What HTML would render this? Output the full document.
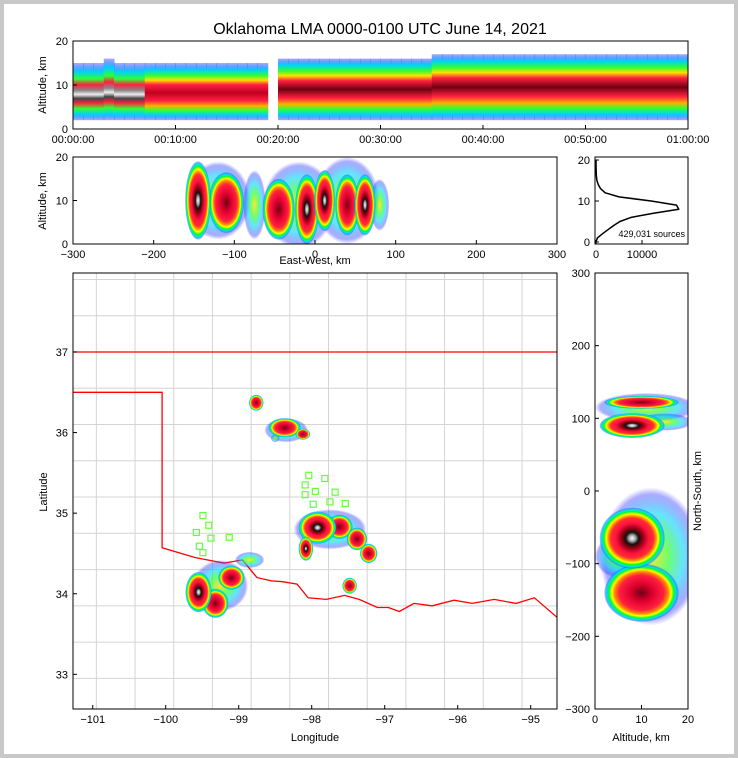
<!DOCTYPE html>
<html><head><meta charset="utf-8"><style>
html,body{margin:0;padding:0;background:#fff}
svg{display:block;font-family:"Liberation Sans",sans-serif}
</style></head><body>
<svg id="c" width="738" height="758" viewBox="0 0 738 758" xmlns="http://www.w3.org/2000/svg">
<defs>
<radialGradient id="gHot"><stop offset="0" stop-color="#fff"/><stop offset="0.1" stop-color="#aaa"/><stop offset="0.2" stop-color="#111"/><stop offset="0.32" stop-color="#900010"/><stop offset="0.5" stop-color="#ff1040"/><stop offset="0.66" stop-color="#ff3030"/><stop offset="0.74" stop-color="#ffa000"/><stop offset="0.8" stop-color="#ffff00"/><stop offset="0.87" stop-color="#00ff20"/><stop offset="0.94" stop-color="#00e0ff"/><stop offset="1" stop-color="#2020ff" stop-opacity="0.2"/></radialGradient>
<radialGradient id="gWarm"><stop offset="0" stop-color="#700010"/><stop offset="0.3" stop-color="#e00030"/><stop offset="0.6" stop-color="#ff2040"/><stop offset="0.72" stop-color="#ff8800"/><stop offset="0.8" stop-color="#ffff00"/><stop offset="0.87" stop-color="#00ff30"/><stop offset="0.94" stop-color="#00d8ff"/><stop offset="1" stop-color="#2020ff" stop-opacity="0.2"/></radialGradient>
<radialGradient id="gCool"><stop offset="0" stop-color="#ffe000" stop-opacity="0.8"/><stop offset="0.35" stop-color="#30ff30" stop-opacity="0.7"/><stop offset="0.65" stop-color="#00d0ff" stop-opacity="0.6"/><stop offset="0.9" stop-color="#3030ff" stop-opacity="0.4"/><stop offset="1" stop-color="#3030ff" stop-opacity="0"/></radialGradient>
<linearGradient id="vHot" x1="0" y1="0" x2="0" y2="1"><stop offset="0" stop-color="#3030ff" stop-opacity="0.4"/><stop offset="0.1" stop-color="#00d0ff"/><stop offset="0.2" stop-color="#30ff30"/><stop offset="0.28" stop-color="#ffe000"/><stop offset="0.36" stop-color="#ff2040"/><stop offset="0.5" stop-color="#700010"/><stop offset="0.64" stop-color="#ff2040"/><stop offset="0.74" stop-color="#ffb000"/><stop offset="0.82" stop-color="#30ff30"/><stop offset="0.91" stop-color="#00d0ff"/><stop offset="1" stop-color="#3030ff" stop-opacity="0.4"/></linearGradient>
<linearGradient id="vWarm" x1="0" y1="0" x2="0" y2="1"><stop offset="0" stop-color="#3030ff" stop-opacity="0.4"/><stop offset="0.12" stop-color="#00d0ff"/><stop offset="0.22" stop-color="#30ff30"/><stop offset="0.3" stop-color="#ffe000"/><stop offset="0.38" stop-color="#ff2040"/><stop offset="0.52" stop-color="#c00020"/><stop offset="0.66" stop-color="#ff2040"/><stop offset="0.75" stop-color="#ffb000"/><stop offset="0.83" stop-color="#30ff30"/><stop offset="0.91" stop-color="#00d0ff"/><stop offset="1" stop-color="#3030ff" stop-opacity="0.4"/></linearGradient>
<linearGradient id="vGrey" x1="0" y1="0" x2="0" y2="1"><stop offset="0" stop-color="#3030ff" stop-opacity="0.4"/><stop offset="0.15" stop-color="#00d0ff"/><stop offset="0.28" stop-color="#30ff30"/><stop offset="0.38" stop-color="#ff2040"/><stop offset="0.48" stop-color="#888"/><stop offset="0.55" stop-color="#eee"/><stop offset="0.62" stop-color="#444"/><stop offset="0.7" stop-color="#ff2040"/><stop offset="0.8" stop-color="#30ff30"/><stop offset="0.9" stop-color="#00d0ff"/><stop offset="1" stop-color="#3030ff" stop-opacity="0.4"/></linearGradient>
<clipPath id="cTop"><rect x="73" y="41" width="615" height="88"/></clipPath>
<clipPath id="cMid"><rect x="73" y="157" width="484" height="87"/></clipPath>
<clipPath id="cMap"><rect x="73" y="273" width="484" height="436"/></clipPath>
<clipPath id="cRt"><rect x="595" y="273" width="93" height="436"/></clipPath>
</defs>
<rect x="2" y="2" width="734" height="754" fill="#fff" stroke="#c8c8c8" stroke-width="4"/>
<text x="380" y="34" font-size="16" text-anchor="middle">Oklahoma LMA 0000-0100 UTC June 14, 2021</text>
<g id="layers"></g>
</svg>
<script>
// ---- data ----
const timeMin = [0,1,2,3,4,5,6,7,8,9,10,11,12,13,14,15,16,17,18,19,20,21,22,23,24,25,26,27,28,29,30,31,32,33,34,35,36,37,38,39,40,41,42,43,44,45,46,47,48,49,50,51,52,53,54,55,56,57,58,59];
const timeLo  = [2,2,2,2,2,2,2,2,2,2,2,2,2,2,2,2,2,2,2,2,2,2,2,2,2,2,2,2,2,2,2,2,2,2,2,2,2,2,2,2,2,2,2,2,2,2,2,2,2,2,2,2,2,2,2,2,2,2,2,2];
const timeHi  = [15,15,15,16,15,15,15,15,15,15,15,15,15,15,15,15,15,15,15,15,16,16,16,16,16,16,16,16,16,16,16,16,16,16,16,17,17,17,17,17,17,17,17,17,17,17,17,17,17,17,17,17,17,17,17,17,17,17,17,17];
const timeLvl = [0,0,0,0,0,0,0,1,1,1,1,1,1,1,1,1,1,1,1,1,2,2,2,2,2,2,2,2,2,2,2,2,2,2,2,2,2,2,2,2,2,2,2,2,2,2,2,2,2,2,2,2,2,2,2,2,2,2,2,2];
// east-west vs altitude blobs: x km, alt km, rx km, ry km, level(0 cool,1 warm,2 hot)
const ewX   = [-120,-20,40,-145,-110,-75,-45,-10,12,40,62,80];
const ewAlt = [10,9,10,10,9.5,9,8,8,10,9,9,9];
const ewRx  = [40,45,40,16,22,14,20,15,13,15,13,12];
const ewRy  = [9,10,10,9,7,8,7,8,7,7,7,6];
const ewLvl = [0,0,0,2,1,0,1,2,2,1,2,0];
// altitude histogram (counts per km, 0..20)
const histAlt = [0,1,2,3,4,5,6,7,8,9,10,11,12,13,14,15,16,17,18,19,20];
const histCnt = [0,300,1400,2600,3800,5200,7600,12500,18000,17500,12000,5000,2000,1000,500,200,80,40,20,10,0];
const totalSources = "429,031 sources";
// map storm blobs: lon, lat, rx deg, ry deg, level
const blobLon = [-97.75,-99.25,-98.35,-98.76,-98.37,-98.12,-98.5,-97.92,-97.62,-97.38,-97.22,-98.08,-97.48,-99.55,-99.32,-99.1,-98.85];
const blobLat = [34.8,34.1,36.03,36.37,36.06,35.98,35.93,34.82,34.83,34.68,34.5,34.56,34.1,34.02,33.88,34.2,34.42];
const blobRx  = [0.5,0.38,0.3,0.1,0.22,0.1,0.06,0.26,0.18,0.14,0.12,0.1,0.1,0.18,0.18,0.18,0.2];
const blobRy  = [0.25,0.32,0.15,0.1,0.12,0.07,0.05,0.2,0.15,0.14,0.12,0.15,0.1,0.25,0.18,0.15,0.1];
const blobLvl = [0,0,0,1,1,1,0,2,1,1,1,2,1,2,1,1,0];
// stations
const staLon = [-98.04,-97.82,-98.09,-97.95,-98.09,-97.75,-97.98,-97.68,-97.54,-99.49,-99.41,-99.58,-99.38,-99.13,-99.54,-99.49];
const staLat = [35.47,35.43,35.35,35.27,35.23,35.14,35.11,35.26,35.12,34.97,34.85,34.76,34.69,34.70,34.59,34.51];
// altitude vs north-south blobs: alt km, ns km, rx km, ry km, level
const nsAlt = [11,12,10,8,15,8,10,5];
const nsNS  = [115,-90,122,90,95,-65,-140,-90];
const nsRx  = [11,11,8,7,6,7,8,5];
const nsRy  = [20,95,9,17,12,42,40,30];
const nsLvl = [0,0,1,2,0,2,1,0];
// Oklahoma border (lon, lat)
const okLon = [-101.3,-100.05,-100.05,-99.6,-99.2,-98.95,-98.75,-98.55,-98.4,-98.2,-98.05,-97.8,-97.55,-97.35,-97.1,-96.95,-96.8,-96.6,-96.35,-96.05,-95.8,-95.5,-95.2,-94.95,-94.63,-94.63,-101.3];
const okLat = [36.5,36.5,34.57,34.45,34.38,34.42,34.2,34.16,34.15,34.12,33.95,33.93,33.98,33.93,33.83,33.83,33.78,33.88,33.85,33.92,33.88,33.93,33.88,33.95,33.7,37.0,37.0];
const lonTicks=[-101,-100,-99,-98,-97,-96,-95];
const latTicks=[33,34,35,36,37];
const timeTicks=["00:00:00","00:10:00","00:20:00","00:30:00","00:40:00","00:50:00","01:00:00"];

// ---- helpers ----
const NS="http://www.w3.org/2000/svg";
const root=document.getElementById('layers');
function mk(tag,attrs,parent){const e=document.createElementNS(NS,tag);for(const k in attrs)e.setAttribute(k,attrs[k]);(parent||root).appendChild(e);return e;}
function lin(d0,d1,r0,r1){return v=>r0+(v-d0)*(r1-r0)/(d1-d0);}
const grad=["url(#gCool)","url(#gWarm)","url(#gHot)"];
const vgrad=["url(#vGrey)","url(#vWarm)","url(#vHot)"];
function txt(x,y,s,size,anchor,rot){const t=mk('text',{x:x,y:y,'font-size':size||11,'text-anchor':anchor||'middle'});if(rot)t.setAttribute('transform',`rotate(${rot} ${x} ${y})`);t.textContent=s;return t;}
function frame(x,y,w,h,name){const r=mk('rect',{x:x,y:y,width:w,height:h,fill:'none',stroke:'#000','stroke-width':1});}
function xtick(x,y0,y1){mk('line',{x1:x,x2:x,y1:y0,y2:y1,stroke:'#000'});}
function ytick(y,x0,x1){mk('line',{x1:x0,x2:x1,y1:y,y2:y,stroke:'#000'});}

// ---- top panel: time vs altitude ----
const tX=lin(0,60,73,688), tY=lin(0,20,129,41);
const gTop=mk('g',{'clip-path':'url(#cTop)'});


timeMin.forEach((m,i)=>{
  if(m===19){return;}
  const r=mk('rect',{x:tX(m),y:tY(timeHi[i]),width:tX(m+1)-tX(m)+0.5,height:tY(timeLo[i])-tY(timeHi[i]),fill:vgrad[timeLvl[i]]},gTop);
  
  
});
frame(73,41,615,88,'time-panel-frame');
[0,10,20].forEach(v=>{ytick(tY(v),73,77);txt(68,tY(v)+4,String(v),11,'end');});
timeTicks.forEach((s,i)=>{const x=tX(i*10);xtick(x,129,125);txt(x,143,s);});
txt(46,85,'Altitude, km',11,'middle',-90);

// ---- middle: east-west vs altitude ----
const eX=lin(-300,300,73,557), eY=lin(0,20,244,157);
const gMid=mk('g',{'clip-path':'url(#cMid)'});


ewX.map((v,i)=>i).sort((a,b)=>ewLvl[a]-ewLvl[b]).forEach(i=>{
  const e=mk('ellipse',{cx:eX(ewX[i]),cy:eY(ewAlt[i]),rx:eX(ewRx[i])-eX(0),ry:eY(0)-eY(ewRy[i]),fill:grad[ewLvl[i]]},gMid);
  
  
});
frame(73,157,484,87,'ew-panel-frame');
[0,10,20].forEach(v=>{ytick(eY(v),73,77);txt(68,eY(v)+4,String(v),11,'end');});
[-300,-200,-100,0,100,200,300].forEach(v=>{xtick(eX(v),244,240);txt(eX(v),258,String(v).replace('-','−'));});
txt(315,264,'East-West, km');
txt(46,201,'Altitude, km',11,'middle',-90);

// ---- histogram ----
const hX=lin(0,20000,596,688), hY=lin(0,20,242,160);
let d='';histAlt.forEach((a,i)=>{d+=(i?'L':'M')+hX(histCnt[i]).toFixed(1)+','+hY(a).toFixed(1);});
const hp=mk('path',{d:d,fill:'none',stroke:'#000','stroke-width':1.5,'stroke-linejoin':'round'});


frame(595,157,93,87,'hist-panel-frame');
[0,10,20].forEach(v=>{ytick(hY(v),595,599);txt(590,hY(v)+4,String(v),11,'end');});
[0,10000].forEach(v=>{xtick(hX(v),244,240);txt(hX(v),258,String(v));});
txt(685,237,totalSources,9,'end');

// ---- map ----
const mX=lin(-101.27,-94.64,73,557), mY=lin(37.98,32.57,273,709);
const gMap=mk('g',{'clip-path':'url(#cMap)'});


for(let lo=-100.95;lo<-94.6;lo+=0.53){mk('line',{x1:mX(lo),x2:mX(lo),y1:273,y2:709,stroke:'#d4d4d4','stroke-width':1},gMap);}
for(let la=32.95;la<38;la+=0.45){mk('line',{x1:73,x2:557,y1:mY(la),y2:mY(la),stroke:'#d4d4d4','stroke-width':1},gMap);}
let od='';okLon.forEach((lo,i)=>{od+=(i?'L':'M')+mX(lo).toFixed(1)+','+mY(okLat[i]).toFixed(1);});
const op=mk('path',{d:od,fill:'none',stroke:'#ff0000','stroke-width':1.3},gMap);


blobLon.map((v,i)=>i).sort((a,b)=>blobLvl[a]-blobLvl[b]).forEach(i=>{
  const e=mk('ellipse',{cx:mX(blobLon[i]),cy:mY(blobLat[i]),rx:mX(blobRx[i])-mX(0),ry:mY(0)-mY(blobRy[i]),fill:grad[blobLvl[i]]},gMap);
  
  
});
staLon.forEach((lo,i)=>{
  const s=mk('rect',{x:mX(lo)-3,y:mY(staLat[i])-3,width:6,height:6,fill:'none',stroke:'#66ff33','stroke-width':1.2},gMap);
  
  
});
frame(73,273,484,436,'map-frame');
lonTicks.forEach(v=>{xtick(mX(v),709,705);txt(mX(v),723,String(v).replace('-','−'));});
latTicks.forEach(v=>{ytick(mY(v),73,77);txt(68,mY(v)+4,String(v),11,'end');});
txt(315,741,'Longitude');
txt(47,492,'Latitude',11,'middle',-90);

// ---- right: altitude vs north-south ----
const rX=lin(0,20,595,688), rY=lin(300,-300,273,709);
const gRt=mk('g',{'clip-path':'url(#cRt)'});


nsAlt.map((v,i)=>i).sort((a,b)=>nsLvl[a]-nsLvl[b]).forEach(i=>{
  const e=mk('ellipse',{cx:rX(nsAlt[i]),cy:rY(nsNS[i]),rx:rX(nsRx[i])-rX(0),ry:rY(0)-rY(nsRy[i]),fill:grad[nsLvl[i]]},gRt);
  
  
});
frame(595,273,93,436,'ns-panel-frame');
[300,200,100,0,-100,-200,-300].forEach(v=>{ytick(rY(v),595,599);txt(590,rY(v)+4,String(v).replace('-','−'),11,'end');});
[0,10,20].forEach(v=>{xtick(rX(v),709,705);txt(rX(v),723,String(v));});
txt(641,741,'Altitude, km');
txt(701,491,'North-South, km',11,'middle',-90);
</script>
</body></html>
